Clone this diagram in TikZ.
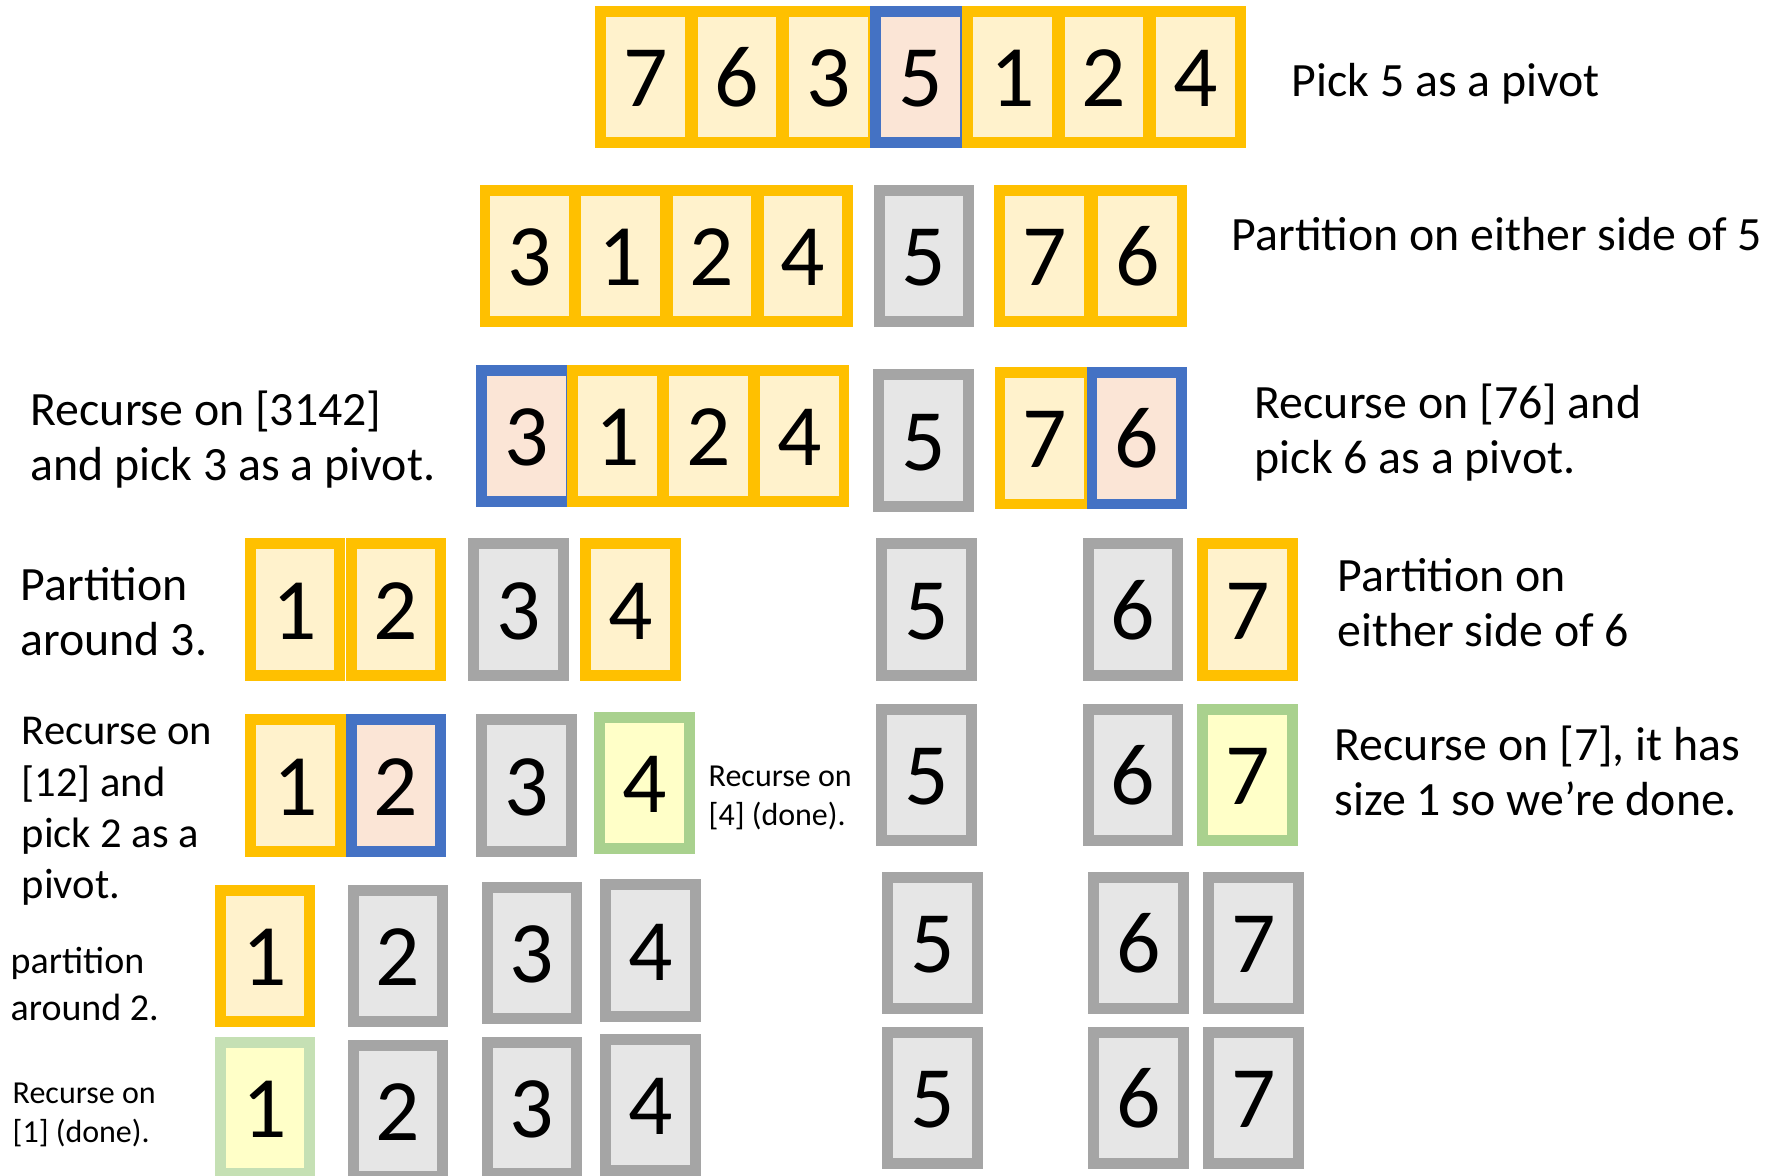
\documentclass[tikz,border=0pt]{standalone}
\usepackage{fontspec}
\setmainfont{Carlito}
\definecolor{yb}{HTML}{FFC000}
\definecolor{yf}{HTML}{FFF2CC}
\definecolor{bb}{HTML}{4472C4}
\definecolor{bf}{HTML}{FBE5D6}
\definecolor{gb}{HTML}{A5A5A5}
\definecolor{gf}{HTML}{E6E6E6}
\definecolor{lb}{HTML}{A9D18E}
\definecolor{lbb}{HTML}{C5E0B4}
\definecolor{lf}{HTML}{FFFFC8}
\tikzset{
  cell/.style={draw, line width=0.107cm, minimum width=0.893cm, minimum height=1.313cm,
    inner sep=0pt, text height=0.59cm, text depth=0pt,
    font=\fontsize{24.9pt}{29pt}\selectfont},
  ybox/.style={cell, draw=yb, fill=yf},
  bbox/.style={cell, draw=bb, fill=bf},
  gbox/.style={cell, draw=gb, fill=gf},
  lbox/.style={cell, draw=lb, fill=lf},
  llbox/.style={cell, draw=lbb, fill=lf},
  lab/.style={anchor=north west, inner sep=0pt, align=left},
  big/.style={lab, font=\fontsize{13.6pt}{15.65pt}\selectfont},
  bigb/.style={lab, font=\fontsize{12.1pt}{14.6pt}\selectfont},
  mid/.style={lab, font=\fontsize{10.8pt}{13.2pt}\selectfont},
  sml/.style={lab, font=\fontsize{9.1pt}{11.1pt}\selectfont},
}
\newcommand{\fl}{\rule{0pt}{0.4cm}}
\begin{document}
\begin{tikzpicture}[x=0.01cm,y=-0.01cm]
\useasboundingbox (0,0) rectangle (1770,1176);
% row 1
\node[ybox] (r1a) at (645.2,77) {7};
\node[ybox] (r1b) at (736.9,77) {6};
\node[ybox] (r1c) at (828.7,77) {3};
\node[bbox] (r1d) at (920.4,77) {5};
\node[ybox] (r1e) at (1012.2,77) {1};
\node[ybox] (r1f) at (1103.9,77) {2};
\node[ybox] (r1g) at (1195.6,77) {4};
% row 2
\node[ybox] (r2a) at (529.7,256) {3};
\node[ybox] (r2b) at (620.8,256) {1};
\node[ybox] (r2c) at (711.9,256) {2};
\node[ybox] (r2d) at (803.0,256) {4};
\node[gbox] (r2e) at (924,256) {5};
\node[ybox] (r2f) at (1044.5,256) {7};
\node[ybox] (r2g) at (1137.4,256) {6};
% row 3
\node[bbox] (r3a) at (526.5,436) {3};
\node[ybox] (r3b) at (617.4,436) {1};
\node[ybox] (r3c) at (708.3,436) {2};
\node[ybox] (r3d) at (799.3,436) {4};
\node[gbox] (r3e) at (923.5,440.5) {5};
\node[ybox] (r3f) at (1044.7,438.3) {7};
\node[bbox] (r3g) at (1136.8,438.3) {6};
% row 4
\node[ybox] (r4a) at (295,609.5) {1};
\node[ybox] (r4b) at (396,609.5) {2};
\node[gbox] (r4c) at (518.5,609.5) {3};
\node[ybox] (r4d) at (630.5,609.5) {4};
\node[gbox] (r4e) at (926.5,609.5) {5};
\node[gbox] (r4f) at (1133,609.5) {6};
\node[ybox] (r4g) at (1247.5,609.5) {7};
% row 5
\node[ybox] (r5a) at (295.5,785.5) {1};
\node[bbox] (r5b) at (396,785.5) {2};
\node[gbox] (r5c) at (526.5,785.5) {3};
\node[lbox] (r5d) at (644.5,783) {4};
\node[gbox] (r5e) at (926.5,775) {5};
\node[gbox] (r5f) at (1133,775) {6};
\node[lbox] (r5g) at (1247.5,775) {7};
% row 6
\node[ybox] (r6a) at (265,956) {1};
\node[gbox] (r6b) at (398,956) {2};
\node[gbox] (r6c) at (532,953) {3};
\node[gbox] (r6d) at (650.5,950.5) {4};
\node[gbox] (r6e) at (932.5,943) {5};
\node[gbox] (r6f) at (1138.5,943) {6};
\node[gbox] (r6g) at (1253.5,943) {7};
% row 7
\node[llbox] (r7a) at (265,1108) {1};
\node[gbox] (r7b) at (398,1111) {2};
\node[gbox] (r7c) at (532,1108) {3};
\node[gbox] (r7d) at (650.5,1105) {4};
\node[gbox] (r7e) at (932.5,1098) {5};
\node[gbox] (r7f) at (1138.5,1098) {6};
\node[gbox] (r7g) at (1253.5,1098) {7};
% labels
\node[big] (t1) at (1291,56) {\fl Pick 5 as a pivot};
\node[big] (t2) at (1231,210) {\fl Partition on either side of 5};
\node[big] (t3l) at (30,385) {\fl Recurse on [3142]\\and pick 3 as a pivot.};
\node[big] (t3r) at (1254,378) {\fl Recurse on [76] and\\pick 6 as a pivot.};
\node[big] (t4l) at (20,560) {\fl Partition\\around 3.};
\node[big] (t4r) at (1337,551) {\fl Partition on\\either side of 6};
\node[bigb] (t5l) at (21,704) {\fl Recurse on\\{}[12] and\\pick 2 as a\\pivot.};
\node[sml] (t5m) at (708,746) {\fl Recurse on\\{}[4] (done).};
\node[big] (t5r) at (1334,720) {\fl Recurse on [7], it has\\size 1 so we’re done.};
\node[mid] (t6l) at (10,933) {\fl partition\\around 2.};
\node[sml] (t7l) at (12,1063) {\fl Recurse on\\{}[1] (done).};
\end{tikzpicture}
\end{document}
